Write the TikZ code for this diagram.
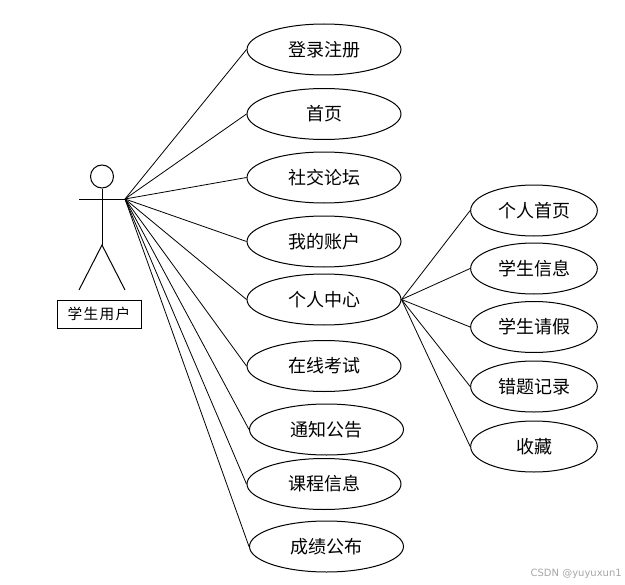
\documentclass[tikz,border=0pt]{standalone}
\usepackage{fontspec}
\usetikzlibrary{shapes.geometric}
\setmainfont{Noto Sans CJK SC}
\newfontfamily\wmfont{DejaVu Sans}
\begin{document}
\begin{tikzpicture}[x=0.75pt,y=-0.75pt,
 uc/.style={draw,ellipse,line width=0.75pt,minimum width=115.5pt,minimum height=38.25pt,inner sep=0pt,font=\fontsize{13.5}{15}\selectfont},
 ucr/.style={uc,minimum width=95pt},
 ln/.style={line width=0.6pt,black},
 body/.style={line width=0.75pt,black},
 lab/.style={draw,line width=0.75pt,minimum width=63pt,minimum height=21pt,inner sep=0pt,font=\fontsize{11}{13}\selectfont},
 wm/.style={text=black!35,font=\wmfont\fontsize{7.5}{9}\selectfont,inner sep=0pt}]
\useasboundingbox (0,0) rectangle (625,585);
\node[uc] (a1) at (324,49.5) {登录注册};
\node[uc] (a2) at (324,114) {首页};
\node[uc] (a3) at (324,177.5) {社交论坛};
\node[uc] (a4) at (324,241.5) {我的账户};
\node[uc] (a5) at (324,299.5) {个人中心};
\node[uc] (a6) at (324,366) {在线考试};
\node[uc] (a7) at (326.5,429.5) {通知公告};
\node[uc] (a8) at (324,484) {课程信息};
\node[uc] (a9) at (326.5,546.5) {成绩公布};
\node[ucr] (b1) at (534,210.5) {个人首页};
\node[ucr] (b2) at (534,268.5) {学生信息};
\node[ucr] (b3) at (534,327) {学生请假};
\node[ucr] (b4) at (534,386.5) {错题记录};
\node[ucr] (b5) at (534,446.5) {收藏};
\node[draw,circle,line width=0.75pt,minimum size=17.25pt,inner sep=0pt] (head) at (102,176.5) {};
\coordinate (armL) at (79,199);
\coordinate (hub) at (125,199);
\coordinate (neck) at (102,199);
\coordinate (hip) at (102,245);
\coordinate (footL) at (79,290);
\coordinate (footR) at (125,290);
\draw[body] (head.south) -- (hip);
\draw[body] (armL) -- (hub);
\draw[body] (footL) -- (hip) -- (footR);
\node[lab] (actor) at (99,314) {学\kern1pt 生\kern1pt 用\kern1pt 户};
\foreach \n in {a1,a2,a3,a4,a5,a6,a7,a8,a9} \draw[ln] (hub) -- (\n.west);
\foreach \n in {b1,b2,b3,b4,b5} \draw[ln] (a5.east) -- (\n.west);
\node[wm,anchor=east] (mark) at (622,574) {CSDN @yuyuxun1};
\end{tikzpicture}
\end{document}
